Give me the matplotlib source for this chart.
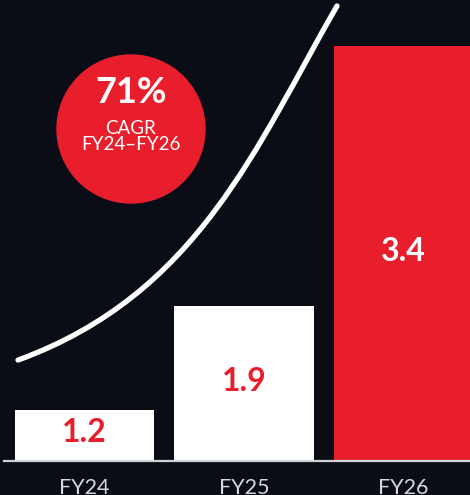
import matplotlib.pyplot as plt
from matplotlib.patches import Ellipse, PathPatch
from matplotlib.path import Path

plt.rcParams['font.family'] = ['Lato', 'DejaVu Sans']

years = ['FY24', 'FY25', 'FY26']
values = ['1.2', '1.9', '3.4']
# drawn bar heights (the chart is not to scale)
bar_heights = [0.42, 1.27, 3.4]
bar_colors = ['white', 'white', '#E91E2D']
label_colors = ['#E91E2D', '#E91E2D', 'white']

cagr = '71%'
cagr_text = ['CAGR', 'FY24\u2013FY26']

# bezier control points of the growth curve (data coords)
trend_curve = [(-0.417, 0.827), (0.712, 1.364), (1.081, 2.589), (1.583, 3.728)]

bg = '#0A0D16'
red = '#E91E2D'

fig = plt.figure(figsize=(4.7, 4.95), dpi=100, facecolor=bg)
ax = fig.add_axes([0, 0, 1, 1])
ax.set_facecolor(bg)

x = range(len(years))
ax.bar(x, bar_heights, width=0.872, color=bar_colors, zorder=2)
ax.axhline(0, xmin=4 / 470, xmax=1, color='#cfd2d6', lw=1.6, zorder=3)

for i, (h, v, c) in enumerate(zip(bar_heights, values, label_colors)):
    ax.text(i, h / 2 + 0.02, v, color=c, fontsize=23, fontweight='bold',
            ha='center', va='center', zorder=4)
    ax.text(i, -0.225, years[i], color='#d4d7dc', fontsize=15.5,
            ha='center', va='center')

path = Path(trend_curve, [Path.MOVETO, Path.CURVE4, Path.CURVE4, Path.CURVE4])
ax.add_patch(PathPatch(path, facecolor='none', edgecolor='white', lw=3.8,
                       capstyle='round', zorder=5))

ax.add_patch(Ellipse((0.2915, 2.72), 148 / 159.5, 148 / 122.06,
                     color=red, zorder=5))
ax.text(0.2915, 3.02, cagr, color='white', fontsize=26, fontweight='bold',
        ha='center', va='center', zorder=6)
ax.text(0.2915, 2.728, cagr_text[0], color='white', fontsize=13.5,
        ha='center', va='center', zorder=6)
ax.text(0.2915, 2.589, cagr_text[1], color='white', fontsize=13.5,
        ha='center', va='center', zorder=6)

ax.set_xlim(-84.5 / 159.5, (470 - 84.5) / 159.5)
ax.set_ylim(-34 / 122.06, 461 / 122.06)
ax.axis('off')

plt.savefig('out.png', dpi=100, facecolor=bg)
